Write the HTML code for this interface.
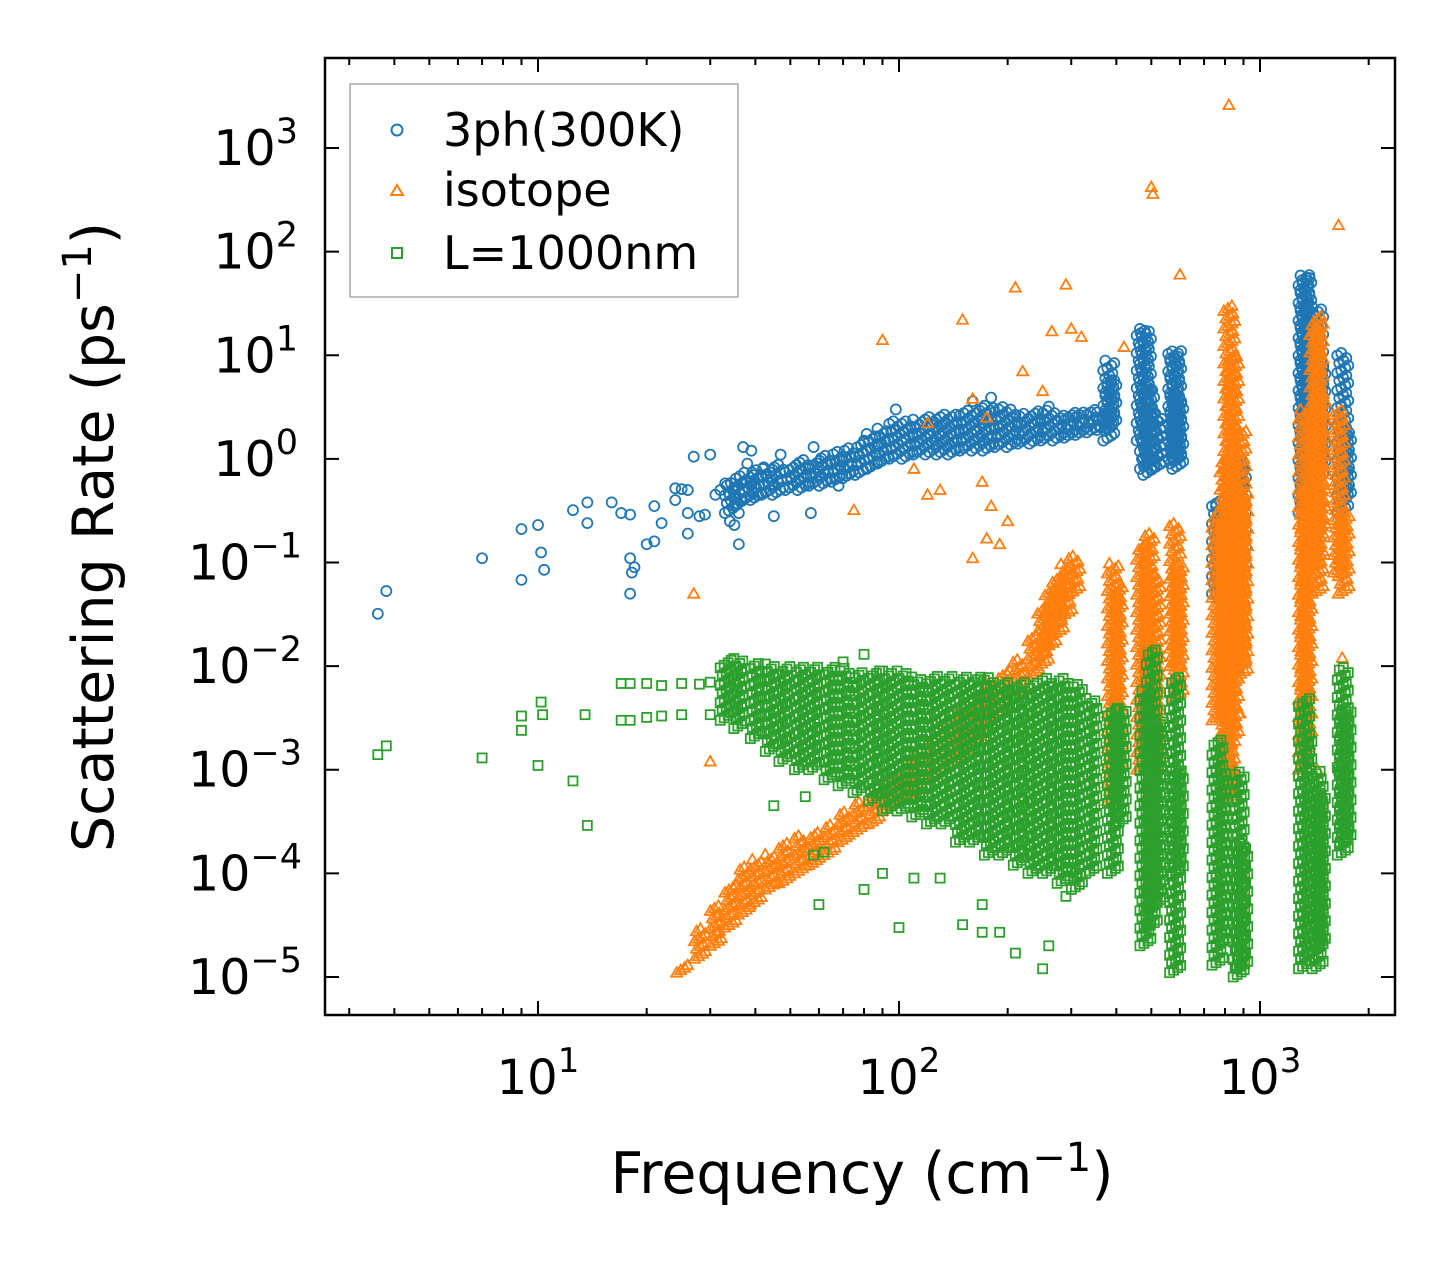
<!DOCTYPE html>
<html><head><meta charset="utf-8"><style>
html,body{margin:0;padding:0;background:#fff;}
svg{display:block;font-family:"DejaVu Sans","Liberation Sans",sans-serif;}
</style></head><body>
<svg id="chart" width="1455" height="1265" viewBox="0 0 1455 1265" xmlns="http://www.w3.org/2000/svg">
<rect x="0" y="0" width="1455" height="1265" fill="#fff"/>
<g id="marks"></g>
<rect x="325" y="58" width="1070" height="957" fill="none" stroke="#000" stroke-width="2.5"/>
<g id="axes"></g>
<g>
<rect x="350" y="84" width="388" height="213" fill="#fff" stroke="#aaa" stroke-width="1.5"/>
<circle cx="397" cy="130" r="5.5" fill="none" stroke="#1f77b4" stroke-width="2"/>
<text x="443" y="146" font-size="46">3ph(300K)</text>
<polygon points="397,185 403,195 391,195" fill="none" stroke="#ff7f0e" stroke-width="2"/>
<text x="443" y="206" font-size="46">isotope</text>
<rect x="392" y="248" width="10" height="10" fill="none" stroke="#2ca02c" stroke-width="2"/>
<text x="443" y="269" font-size="46">L=1000nm</text>
</g>
<text x="862" y="1193" font-size="57" text-anchor="middle">Frequency (cm<tspan dy="-22" font-size="40">−1</tspan><tspan dy="22">)</tspan></text>
<text transform="translate(113,537) rotate(-90)" font-size="57" text-anchor="middle">Scattering Rate (ps<tspan dy="-22" font-size="40">−1</tspan><tspan dy="22">)</tspan></text>
</svg>
<script>
// ---- data ----
const blueScatter = [[3.6,0.032],[3.8,0.053],[7,0.11],[9,0.21],[9,0.068],[10,0.23],[10.2,0.125],[10.4,0.085],[12.5,0.32],[13.7,0.38],[13.7,0.24],[16,0.38],[17,0.3],[18,0.29],[18,0.11],[18,0.05],[18.2,0.08],[18.5,0.09],[20,0.15],[21,0.16],[21,0.35],[22,0.24],[24,0.52],[24,0.4],[25,0.51],[26,0.3],[26,0.19],[26,0.5],[27,1.05],[28,0.28],[29,0.29],[30,1.1],[31,0.45],[32,0.5],[33,0.58],[34,0.25],[34,0.45],[35,0.23],[36,0.15],[36,0.3],[37,1.3],[38,0.9],[39,1.2],[42,0.8],[45,0.28],[47,1.1],[57,0.3],[58,1.3],[68,0.55],[80,1.5],[98,3.0],[160,3.6],[180,3.9],[260,3.2]];
const blueColumns = [[34,0.3,0.6],[36,0.35,0.7],[38,0.4,0.75],[40,0.4,0.8],[43,0.45,0.85],[46,0.45,0.9],[50,0.5,0.9],[54,0.5,1.0],[58,0.55,1.0],[62,0.55,1.1],[67,0.6,1.2],[72,0.65,1.3],[78,0.7,1.5],[84,0.8,1.8],[90,0.9,2.0],[97,1.0,2.3],[105,1.0,2.4],[113,1.1,2.5],[122,1.1,2.6],[131,1.1,2.7],[141,1.1,2.8],[152,1.2,3.0],[164,1.2,3.2],[176,1.2,3.4],[190,1.3,3.2],[205,1.3,3.0],[220,1.4,2.8],[237,1.4,2.9],[255,1.5,3.0],[275,1.5,2.9],[296,1.6,2.8],[318,1.7,2.9],[342,1.8,3.0],[365,1.9,2.8],[380,1.5,9],[385,2,6],[470,1.5,18],[480,0.8,18],[490,0.7,5],[500,0.9,3],[520,0.8,2.5],[575,1.0,11],[582,0.9,11],[590,0.8,4],[760,0.05,0.4],[780,0.05,0.35],[860,0.1,1],[880,0.08,0.8],[1320,0.3,60],[1335,0.4,60],[1345,0.5,30],[1440,0.6,30],[1460,0.8,8],[1690,0.3,11],[1720,0.4,2]];
const orangeScatter = [[820,2600],[500,420],[505,360],[1650,180],[210,45],[290,48],[150,22],[265,17],[300,18],[90,14],[320,15],[420,12],[250,4.5],[220,7],[160,3.8],[110,0.8],[75,0.32],[120,0.45],[130,0.5],[170,0.6],[180,0.35],[200,0.25],[160,0.11],[175,0.17],[190,0.15],[27,0.05],[30,1.2e-3],[230,6.5e-3],[120,2.2],[175,2.5],[600,60],[1690,0.012],[1440,1e-3],[880,3.5e-3]];
const orangeColumns = [[25,1.1e-5,1.3e-5],[28,1.5e-5,3e-5],[31,2e-5,5e-5],[34,3e-5,8e-5],[37,4e-5,1.2e-4],[40,5e-5,1.4e-4],[44,7e-5,1.6e-4],[48,8e-5,2e-4],[53,1e-4,2.3e-4],[58,1.2e-4,2.6e-4],[64,1.5e-4,3e-4],[70,2e-4,4e-4],[77,2.5e-4,5e-4],[85,3e-4,6e-4],[93,4e-4,8e-4],[102,5e-4,1e-3],[112,6e-4,1.5e-3],[123,8e-4,2e-3],[135,1e-3,3e-3],[148,1.3e-3,4e-3],[162,1.8e-3,5e-3],[178,2.5e-3,7e-3],[195,3.5e-3,9e-3],[214,5e-3,1.2e-2],[235,8e-3,2e-2],[250,1e-2,4e-2],[262,1.5e-2,6e-2],[275,2e-2,8e-2],[290,3e-2,0.1],[305,5e-2,0.12],[390,5e-4,0.1],[400,1e-3,0.06],[470,1e-3,0.15],[490,2e-3,0.2],[510,1e-3,0.08],[580,1e-2,0.25],[590,5e-3,0.1],[760,3e-3,0.3],[800,1e-3,1],[820,5e-4,30],[840,2e-3,10],[880,1e-2,2],[890,8e-3,0.5],[1320,1e-3,3],[1340,2e-3,0.5],[1420,0.1,20],[1440,0.05,25],[1460,0.2,5],[1650,0.08,3],[1700,0.05,0.3]];
const greenScatter = [[3.6,1.4e-3],[3.8,1.7e-3],[7,1.3e-3],[9,3.3e-3],[9,2.4e-3],[10,1.1e-3],[10.2,4.5e-3],[10.3,3.4e-3],[12.5,7.8e-4],[13.5,3.4e-3],[13.7,2.9e-4],[17,6.8e-3],[17,3e-3],[18,6.8e-3],[18,3e-3],[20,6.8e-3],[20,3.2e-3],[22,6.5e-3],[22,3.3e-3],[25,6.8e-3],[25,3.4e-3],[28,6.7e-3],[30,7e-3],[30,3.4e-3],[45,4.5e-4],[55,5.5e-4],[58,1.5e-4],[62,1.6e-4],[60,5e-5],[80,7e-5],[90,1e-4],[100,3e-5],[110,9e-5],[130,9e-5],[150,3.2e-5],[170,5e-5],[170,2.7e-5],[190,2.7e-5],[210,1.7e-5],[250,1.2e-5],[260,2e-5],[290,6e-5],[310,1e-4],[80,1.3e-2],[70,1.1e-2],[1650,1e-3]];
const greenColumns = [[33,3e-3,1.2e-2],[36,2.5e-3,1.2e-2],[40,2e-3,1.1e-2],[44,1.5e-3,1.1e-2],[48,1.2e-3,1e-2],[53,1e-3,1e-2],[58,1e-3,1e-2],[64,8e-4,1e-2],[70,7e-4,1e-2],[77,6e-4,9e-3],[85,5e-4,9e-3],[93,4e-4,9e-3],[102,4e-4,9e-3],[112,3.5e-4,8e-3],[123,3e-4,8e-3],[135,3e-4,8e-3],[148,2e-4,8e-3],[162,2e-4,8e-3],[178,1.5e-4,8e-3],[195,1.5e-4,7e-3],[214,1.2e-4,7e-3],[235,1e-4,7e-3],[258,1e-4,8e-3],[283,8e-5,8e-3],[310,7e-5,7e-3],[340,1e-4,5e-3],[390,1e-4,4e-3],[410,3e-4,4e-3],[480,2e-5,6e-3],[500,3e-5,1.5e-2],[520,5e-5,3e-3],[580,1.1e-5,8e-3],[590,1e-4,1e-3],[760,1.3e-5,2e-3],[780,2e-5,1e-3],[870,1e-5,1e-3],[890,1.2e-5,2e-4],[1320,1.2e-5,5e-3],[1340,1.5e-5,2e-3],[1440,1.2e-5,1e-3],[1460,2e-5,6e-4],[1690,1.5e-4,1e-2],[1720,2e-4,4e-3]];
const xTickExps = [1,2,3];
const yTickExps = [-5,-4,-3,-2,-1,0,1,2,3];

// ---- scales ----
const X0=325,X1=1395,Y0=58,Y1=1015;
const xLogMin=Math.log10(10)-(538-325)/361, xLogMax=3+(1395-1260)/361;
const yLogMax=3+(148-58)/103.6, yLogMin=-5-(1015-977)/103.6;
function sx(v){return X0+(Math.log10(v)-xLogMin)/(xLogMax-xLogMin)*(X1-X0);}
function sy(v){return Y1-(Math.log10(v)-yLogMin)/(yLogMax-yLogMin)*(Y1-Y0);}
const NS="http://www.w3.org/2000/svg";
const marks=document.getElementById('marks');
const axes=document.getElementById('axes');
function mk(tag,attrs,parent){const e=document.createElementNS(NS,tag);for(const k in attrs)e.setAttribute(k,attrs[k]);parent.appendChild(e);return e;}

function marker(kind,px,py,g){
  let e;
  if(kind==='circle') e=mk('circle',{cx:px,cy:py,r:5,fill:'none',stroke:'#1f77b4','stroke-width':1.8},g);
  else if(kind==='tri') e=mk('polygon',{points:`${px},${py-5.5} ${px+5.5},${py+4} ${px-5.5},${py+4}`,fill:'none',stroke:'#ff7f0e','stroke-width':1.8},g);
  else e=mk('rect',{x:px-4.5,y:py-4.5,width:9,height:9,fill:'none',stroke:'#2ca02c','stroke-width':1.8},g);
  return e;
}
const jitter=[-5,-1,3,6,-3,1,4];
function drawSeries(name,kind,scatter,columns){
  const g=mk('g',{},marks);
  
  
  columns.forEach(c=>{
    const px=sx(c[0]), ytop=sy(c[2]), ybot=sy(c[1]);
    let i=0;
    for(let py=ybot;py>=ytop-0.1;py-=2.5){
      const e=marker(kind,px+jitter[i%jitter.length],py,g);
      i++;
      
      
    }
  });
  scatter.forEach(p=>{
    const e=marker(kind,sx(p[0]),sy(p[1]),g);
    
    
  });
}
drawSeries('3ph','circle',blueScatter,blueColumns);
drawSeries('isotope','tri',orangeScatter,orangeColumns);
drawSeries('boundary','square',greenScatter,greenColumns);

// ---- axes ----
for(let d=0;d<=3;d++){for(let m=1;m<10;m++){
  const v=m*Math.pow(10,d);const px=sx(v);
  if(px<X0||px>X1) continue;
  const len=(m===1)?14:7;
  const t1=mk('line',{x1:px,x2:px,y1:Y1,y2:Y1-len,stroke:'#000','stroke-width':2},axes);
  
  
  const t2=mk('line',{x1:px,x2:px,y1:Y0,y2:Y0+len,stroke:'#000','stroke-width':2},axes);
  
  
}}
xTickExps.forEach(e=>{
  const px=sx(Math.pow(10,e));
  const t=mk('text',{x:px,y:1094,'font-size':48,'text-anchor':'middle'},axes);
  
  
  t.innerHTML=`10<tspan dy="-22" font-size="34">${e}</tspan>`;
});
yTickExps.forEach(e=>{
  const py=sy(Math.pow(10,e));
  const a=mk('line',{x1:X0,x2:X0+14,y1:py,y2:py,stroke:'#000','stroke-width':2},axes);
  
  
  const b=mk('line',{x1:X1,x2:X1-14,y1:py,y2:py,stroke:'#000','stroke-width':2},axes);
  
  
  const t=mk('text',{x:e<0?302:298,y:py+17,'font-size':49,'text-anchor':'end'},axes);
  
  
  const lbl=e<0?'−'+(-e):String(e);
  t.innerHTML=`10<tspan dy="-22" font-size="35">${lbl}</tspan>`;
});
</script>
</body></html>
